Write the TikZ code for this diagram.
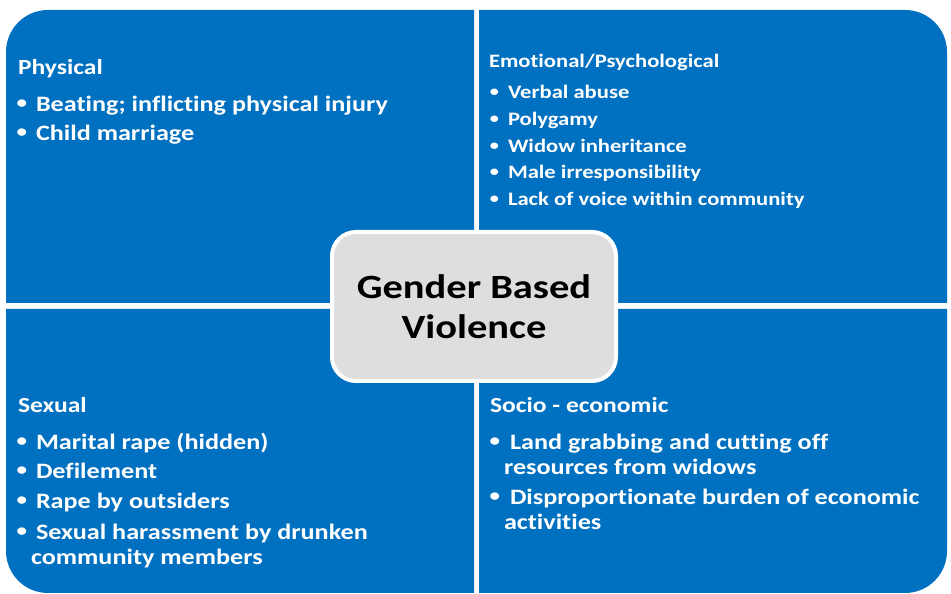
\documentclass[tikz,border=0pt]{standalone}
\usepackage{fontspec}
\setmainfont{Carlito}[FakeStretch=1.19,Ligatures={NoCommon,NoContextual}]
\definecolor{gbvblue}{HTML}{0070C0}
\definecolor{gbvgrey}{HTML}{DEDEDE}
\newcommand{\gbvdot}[1]{\llap{\raisebox{0.3ex}{\scalebox{0.8}{•}}\hspace{#1}}}
\begin{document}
\begin{tikzpicture}[x=1pt,y=1pt,
  every node/.style={inner sep=0pt,outer sep=0pt},
  head/.style={anchor=base west,text=white,font=\bfseries\fontsize{21.5}{24}\selectfont},
  item/.style={anchor=base west,text=white,font=\bfseries\fontsize{22}{24}\selectfont},
  headsmall/.style={anchor=base west,text=white,font=\bfseries\fontsize{19}{21}\selectfont},
  itemsmall/.style={anchor=base west,text=white,font=\bfseries\fontsize{19}{21}\selectfont}]
\useasboundingbox (0,0) rectangle (951,594);
% quadrants
\fill [gbvblue] (474,291) -- (6,291) -- (6,542) arc[start angle=180,end angle=90,radius=42] -- (474,584) -- cycle;
\fill [gbvblue] (479,291) -- (479,584) -- (905,584) arc[start angle=90,end angle=0,radius=42] -- (947,291) -- cycle;
\fill [gbvblue] (474,285) -- (474,1) -- (48,1) arc[start angle=270,end angle=180,radius=42] -- (6,285) -- cycle;
\fill [gbvblue] (479,285) -- (947,285) -- (947,43) arc[start angle=0,end angle=-90,radius=42] -- (479,1) -- cycle;
% physical
\node [head] (phys) at (18,519) {Physical};
\node [item] (phys1) at (36,482) {\gbvdot{9pt}Beating; inflicting physical injury};
\node [item] (phys2) at (36,453) {\gbvdot{9pt}Child marriage};
% emotional
\node [headsmall] (emo) at (489,526) {Emotional/Psychological};
\node [itemsmall] (emo1) at (508,495) {\gbvdot{9pt}Verbal abuse};
\node [itemsmall] (emo2) at (508,468) {\gbvdot{9pt}Polygamy};
\node [itemsmall] (emo3) at (508,441) {\gbvdot{9pt}Widow inheritance};
\node [itemsmall] (emo4) at (508,415) {\gbvdot{9pt}Male irresponsibility};
\node [itemsmall] (emo5) at (508,388) {\gbvdot{9pt}Lack of voice within community};
% sexual
\node [head] (sex) at (18,181) {Sexual};
\node [item] (sex1) at (36,144) {\gbvdot{9pt}Marital rape (hidden)};
\node [item] (sex2) at (36,115) {\gbvdot{9pt}Defilement};
\node [item] (sex3) at (36,85) {\gbvdot{9pt}Rape by outsiders};
\node [item] (sex4) at (36,54) {\gbvdot{9pt}Sexual harassment by drunken};
\node [item] (sex4b) at (31,29) {community members};
% socio-economic
\node [head] (soc) at (490,181) {Socio - economic};
\node [item] (soc1) at (510,144) {\gbvdot{10pt}Land grabbing and cutting off};
\node [item] (soc1b) at (504,119) {resources from widows};
\node [item] (soc2) at (510,89) {\gbvdot{10pt}Disproportionate burden of economic};
\node [item] (soc2b) at (504,64) {activities};
% centre
\node [draw=white,line width=4pt,fill=gbvgrey,rounded corners=24pt,
       minimum width=284pt,minimum height=149pt,align=center,
       font=\bfseries\fontsize{34}{40}\selectfont] (gbv) at (474,287.5) {Gender Based\\Violence};
\end{tikzpicture}
\end{document}
